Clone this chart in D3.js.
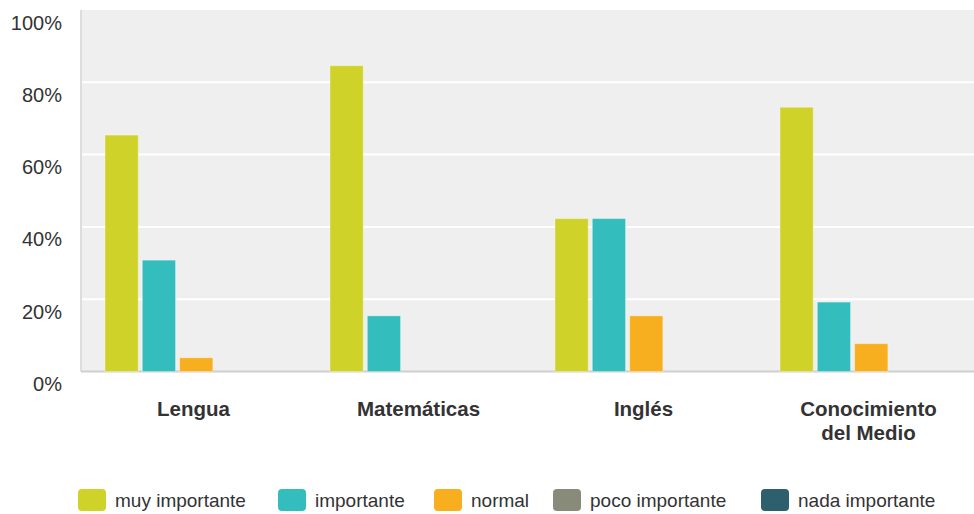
<!DOCTYPE html>
<html>
<head>
<meta charset="utf-8">
<script src="https://cdn.jsdelivr.net/npm/d3@7/dist/d3.min.js"></script>
<style>
  html, body { margin: 0; padding: 0; background: #fff; }
  svg { display: block; }
  text { font-family: "Liberation Sans", Arial, sans-serif; fill: #333; }
</style>
</head>
<body>
<svg id="chart" width="974" height="514"></svg>
<script>
// Subjects and answer share (percent of responses) per importance level
const subjects = ["Lengua", "Matemáticas", "Inglés", "Conocimiento del Medio"];
const subjectLines = [["Lengua"], ["Matemáticas"], ["Inglés"], ["Conocimiento", "del Medio"]];
const levels = ["muy importante", "importante", "normal", "poco importante", "nada importante"];
const muyImportante = [65.4, 84.6, 42.3, 73.1];
const importante = [30.8, 15.4, 42.3, 19.2];
const normal = [3.8, 0, 15.4, 7.7];
const pocoImportante = [0, 0, 0, 0];
const nadaImportante = [0, 0, 0, 0];
const yTicks = [0, 20, 40, 60, 80, 100];
const colors = ["#cfd329", "#33bdbd", "#f7af1f", "#898b7a", "#2e5f6c"];

const series = [muyImportante, importante, normal, pocoImportante, nadaImportante];

const svg = d3.select("#chart");
const plot = { left: 81, right: 981, top: 10, bottom: 371.5 };

const x0 = d3.scaleBand().domain(subjects).range([plot.left, plot.right]).paddingInner(0).paddingOuter(0);
const x1 = d3.scaleBand().domain(levels).range([24, 24 + 5 * 36.5]).paddingInner(4 / 36.5).paddingOuter(0);
const y = d3.scaleLinear().domain([0, 100]).range([plot.bottom, plot.top]);

// plot background
svg.append("rect")
  .attr("x", plot.left).attr("y", plot.top)
  .attr("width", plot.right - plot.left).attr("height", plot.bottom - plot.top)
  .attr("fill", "#efefef");

// gridlines
svg.append("g").selectAll("line").data(yTicks.filter(t => t > 0 && t < 100)).join("line")
  .attr("x1", plot.left).attr("x2", plot.right)
  .attr("y1", d => y(d)).attr("y2", d => y(d))
  .attr("stroke", "#ffffff").attr("stroke-width", 2);

// y axis labels
const yAxis = d3.axisLeft(y).tickValues(yTicks).tickFormat(d => d + "%").tickSize(0);
const ya = svg.append("g").attr("transform", `translate(62,0)`).call(yAxis);
ya.select(".domain").remove();
ya.selectAll("text")
  .attr("x", 0).attr("dy", 0).attr("y", 19)
  .attr("text-anchor", "end")
  .style("font-size", "20px").style("font-family", "'Liberation Sans', Arial, sans-serif")
  .attr("fill", "#333");

// axis lines
svg.append("line").attr("x1", plot.left).attr("x2", plot.left)
  .attr("y1", plot.top).attr("y2", plot.bottom)
  .attr("stroke", "#dddddd").attr("stroke-width", 2);
svg.append("line").attr("x1", plot.left).attr("x2", plot.right)
  .attr("y1", plot.bottom).attr("y2", plot.bottom)
  .attr("stroke", "#cfcfcf").attr("stroke-width", 2);

// bars
const groups = svg.append("g").selectAll("g").data(subjects).join("g")
  .attr("transform", d => `translate(${x0(d)},0)`);
groups.selectAll("rect")
  .data((d, i) => levels.map((lv, j) => ({ lv, j, v: series[j][i] })).filter(e => e.v > 0))
  .join("rect")
  .attr("x", d => x1(d.lv))
  .attr("width", x1.bandwidth())
  .attr("y", d => y(d.v))
  .attr("height", d => y(0) - y(d.v))
  .attr("fill", d => colors[d.j])
  .attr("stroke", "rgba(255,255,255,0.35)")
  .attr("stroke-width", 1);

// category labels
const cat = svg.append("g").selectAll("text").data(subjects).join("text")
  .attr("x", d => x0(d) + x0.bandwidth() / 2)
  .attr("y", 416)
  .attr("text-anchor", "middle")
  .style("font-size", "20.5px").style("font-weight", "bold")
  .attr("fill", "#333");
cat.selectAll("tspan").data((d, i) => subjectLines[i]).join("tspan")
  .attr("x", function () { return d3.select(this.parentNode).attr("x"); })
  .attr("dy", (d, i) => i === 0 ? 0 : 24)
  .text(d => d);

// legend
const legendX = [78, 278, 434, 553, 761];
const leg = svg.append("g").selectAll("g").data(levels).join("g")
  .attr("transform", (d, i) => `translate(${legendX[i]},489)`);
leg.append("rect").attr("width", 28).attr("height", 22).attr("rx", 4)
  .attr("fill", (d, i) => colors[i]);
leg.append("text").attr("x", 37).attr("y", 18)
  .style("font-size", "19px").attr("fill", "#333")
  .text(d => d);
</script>
</body>
</html>
